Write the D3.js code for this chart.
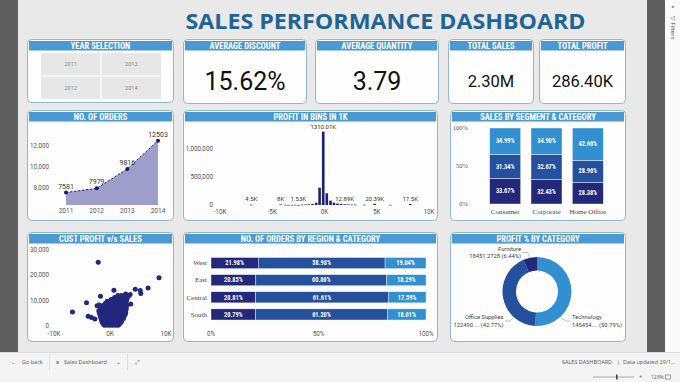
<!DOCTYPE html>
<html><head><meta charset="utf-8">
<script src="https://cdn.jsdelivr.net/npm/d3@7"></script>
<style>
html,body{margin:0;padding:0;background:#fff;overflow:hidden}
svg{display:block}
</style></head><body>
<svg id="c" width="680" height="382"></svg>
<script>
// ---------------- DATA ----------------
const dashTitle = "SALES PERFORMANCE DASHBOARD";
const slicerYears = ["2011","2013","2012","2014"];
const kpiTitles = ["AVERAGE DISCOUNT","AVERAGE QUANTITY","TOTAL SALES","TOTAL PROFIT"];
const kpiValues = ["15.62%","3.79","2.30M","286.40K"];

const years = ["2011","2012","2013","2014"];
const orderCounts = [7581,7979,9816,12503];
const orderTicks = [8000,10000,12000];

// profit bins (bin centre in K) and summed value per bin
const binProfitK = [-7.0,-4.2,-3.75,-3.45,-3.1,-2.8,-2.5,-2.15,-1.8,-1.5,-1.15,-0.8,-0.47,-0.12,0.22,0.57,0.9,1.24,1.58,1.93,2.27,2.6,2.95,3.8,4.8,6.3,8.2];
const binValues = [4500,8000,3000,2000,2500,3000,1530,6000,10000,12000,18000,41000,309000,1310010,209000,77000,41000,25000,20000,12890,10000,8000,6000,5000,20390,3000,17500];
const binLabelK = [-7.0,-4.2,-2.5,-0.12,1.93,4.8,8.2]; // bins whose value label is shown
const binYTicks = [0,500000,1000000];
const binXTicks = [-10,-5,0,5,10];

const categories = ["Furniture","Office Supplies","Technology"];
const segments = ["Consumer","Corporate","Home Office"];
const segFurniture = [33.67,32.43,28.38];
const segOffice = [31.34,32.67,28.96];
const segTech = [34.99,34.90,42.66];

// customer profit (K) vs sales (K)
const custPoints = [
 [-2.1,25.2],[8.75,19.0],[6.8,15.0],[-6.7,5.5],[-4.2,9.2],[-1.7,11.7],[0.7,14.1],[4.5,14.5],[5.4,14.0],[5.5,12.8],
 [3.6,12.4],[-3.9,3.8],[-3.3,3.4],[-2.7,2.8],[-2.3,8.0],[-1.9,8.3],[0.0,9.6],[3.7,8.7],[3.3,11.8],[2.8,12.6],
 [-1.0,0.3],[-0.5,0.3],[0,0.3],[0.5,0.3],[1.0,0.3],[1.5,0.3],
 [-1.2,0.9],[-0.6,0.9],[0,0.9],[0.6,0.9],[1.2,0.9],[1.7,0.9],
 [-1.4,1.5],[-0.8,1.5],[-0.2,1.5],[0.4,1.5],[1.0,1.5],[1.6,1.5],[2.0,1.5],
 [-1.5,2.25],[-0.9,2.25],[-0.3,2.25],[0.3,2.25],[0.9,2.25],[1.5,2.25],[2.1,2.25],
 [-1.6,3],[-1.0,3],[-0.4,3],[0.2,3],[0.8,3],[1.4,3],[2.0,3],[2.4,3],
 [-1.7,3.75],[-1.1,3.75],[-0.5,3.75],[0.1,3.75],[0.7,3.75],[1.3,3.75],[1.9,3.75],[2.5,3.75],
 [-1.8,4.5],[-1.2,4.5],[-0.6,4.5],[0,4.5],[0.6,4.5],[1.2,4.5],[1.8,4.5],[2.4,4.5],[2.7,4.5],
 [-1.9,5.25],[-1.3,5.25],[-0.7,5.25],[-0.1,5.25],[0.5,5.25],[1.1,5.25],[1.7,5.25],[2.3,5.25],[2.8,5.25],
 [-2.0,6],[-1.4,6],[-0.8,6],[-0.2,6],[0.4,6],[1.0,6],[1.6,6],[2.2,6],[2.8,6],
 [-1.7,6.75],[-1.1,6.75],[-0.5,6.75],[0.1,6.75],[0.7,6.75],[1.3,6.75],[1.9,6.75],[2.5,6.75],[2.9,6.75],
 [-1.4,7.5],[-0.8,7.5],[-0.2,7.5],[0.4,7.5],[1.0,7.5],[1.6,7.5],[2.2,7.5],[2.9,7.5],
 [-1.1,8.25],[-0.5,8.25],[0.1,8.25],[0.7,8.25],[1.3,8.25],[1.9,8.25],[2.5,8.25],[3.0,8.25],
 [-0.8,9],[-0.2,9],[0.4,9],[1.0,9],[1.6,9],[2.2,9],[2.8,9],
 [-0.5,9.75],[0.1,9.75],[0.5,9.75],[1.1,9.75],[1.7,9.75],[2.3,9.75],[2.9,9.75],
 [0.2,10.5],[0.8,10.5],[1.4,10.5],[2.0,10.5],[2.6,10.5],[3.0,10.5],
 [0.8,11.25],[1.4,11.25],[2.0,11.25],[2.6,11.25],[3.1,11.25],
 [1.4,12],[2.0,12],[2.6,12],[3.0,12]
];
const custXTicks = [-10,0,10];
const custYTicks = [0,10,20,30];

const regions = ["West","East","Central","South"];
const regFurniture = [21.98,20.85,20.81,20.79];
const regOffice = [58.98,60.86,61.61,61.20];
const regTech = [19.04,18.29,17.59,18.01];
const pctTicks = [0,50,100];

const pieCats = ["Technology","Office Supplies","Furniture"];
const pieProfit = [145454.9483,122490.8008,18451.2728];

// ---------------- STYLE ----------------
const C_FURN = "#22287a", C_OFF = "#24509e", C_TECH = "#3290d0";
const HEAD = "#4a99d3", BORDER = "#8fb8cc";
const SANS = "Roboto, 'Open Sans', sans-serif";
const NARROW = "'Liberation Sans Narrow','Roboto Condensed',Roboto,sans-serif";
const SERIF = "'Liberation Serif','DejaVu Serif',serif";

const svg = d3.select("#c");

// chrome
svg.append("rect").attr("width",680).attr("height",382).attr("fill","#e9e9e9");
svg.append("rect").attr("x",0).attr("y",0).attr("width",18).attr("height",352).attr("fill","#5f5f5f");
svg.append("rect").attr("x",647).attr("y",0).attr("width",18).attr("height",352).attr("fill","#5f5f5f");
svg.append("rect").attr("x",665).attr("y",0).attr("width",15).attr("height",352).attr("fill","#fafafa");
svg.append("rect").attr("x",0).attr("y",352).attr("width",680).attr("height",30).attr("fill","#f4f4f4");
svg.append("line").attr("x1",0).attr("x2",680).attr("y1",352.5).attr("y2",352.5).attr("stroke","#dcdcdc");
// filters pane
svg.append("text").attr("x",673).attr("y",8).attr("text-anchor","middle").attr("font-size",6).attr("fill","#444").attr("font-family",SANS).text("«");
svg.append("text").attr("transform","translate(671,16) rotate(90)").attr("font-size",6).attr("fill","#444").attr("font-family","'Open Sans',sans-serif").text("▽ Filters");

// bottom bar
const bb = svg.append("g").attr("font-family","'Open Sans',sans-serif").attr("font-size",5.5).attr("fill","#555");
bb.append("text").attr("x",11).attr("y",364).text("←");
bb.append("text").attr("x",22).attr("y",364).text("Go back");
bb.append("line").attr("x1",49.5).attr("x2",49.5).attr("y1",354).attr("y2",370).attr("stroke","#e0e0e0");
bb.append("text").attr("x",56).attr("y",364).text("≡");
bb.append("text").attr("x",64).attr("y",364).text("Sales Dashboard");
bb.append("text").attr("x",116).attr("y",364).text("⌄");
bb.append("line").attr("x1",127.5).attr("x2",127.5).attr("y1",354).attr("y2",370).attr("stroke","#e0e0e0");
bb.append("text").attr("x",135).attr("y",364).text("⤢");
bb.append("text").attr("x",562).attr("y",364).text("SALES DASHBOARD");
bb.append("text").attr("x",617).attr("y",364).text("|");
bb.append("text").attr("x",623).attr("y",364).text("Data updated 29/1...");
bb.append("line").attr("x1",593).attr("x2",634).attr("y1",377).attr("y2",377).attr("stroke","#777").attr("stroke-width",0.6);
bb.append("rect").attr("x",616).attr("y",374.5).attr("width",1.6).attr("height",5).attr("fill","#444");
bb.append("text").attr("x",639).attr("y",379).text("+");
bb.append("text").attr("x",651).attr("y",379).attr("font-size",5).text("123%");
bb.append("rect").attr("x",665.5).attr("y",375).attr("width",5).attr("height",4).attr("fill","none").attr("stroke","#666").attr("stroke-width",0.6);

// title
svg.append("text").attr("x",385.5).attr("y",29).attr("text-anchor","middle")
  .attr("font-family","'Open Sans',sans-serif").attr("font-weight",700).attr("font-size",22)
  .attr("fill","#1f6497").attr("textLength",400).attr("lengthAdjust","spacingAndGlyphs").text(dashTitle);

function card(x,y,w,h,title){
  const g = svg.append("g");
  g.append("rect").attr("x",x+0.5).attr("y",y+0.5).attr("width",w).attr("height",h).attr("rx",4)
    .attr("fill","#fdfdfd").attr("stroke",BORDER).attr("stroke-width",1);
  g.append("rect").attr("x",x+2).attr("y",y+2).attr("width",w-3).attr("height",9.5).attr("fill",HEAD);
  g.append("text").attr("x",x+0.5+w/2).attr("y",y+9.8).attr("text-anchor","middle")
    .attr("font-family",NARROW).attr("font-weight",700).attr("font-size",8.5).attr("fill","#fff").text(title);
  return g;
}

// ---------- Year selection ----------
{
  const g = card(27,39,146,63,"YEAR SELECTION");
  const cols = d3.scaleBand().domain([0,1]).range([41,161]).paddingInner(0.02);
  const rows = d3.scaleBand().domain([0,1]).range([53,99]).paddingInner(0.04);
  slicerYears.forEach((yr,i)=>{
    // layout: 2011 top-left, 2013 top-right, 2012 bottom-left, 2014 bottom-right
    const cx = i%2, ry = i<2 ? 0 : 1;
    g.append("rect").attr("x",cols(cx)).attr("y",rows(ry)).attr("width",cols.bandwidth()).attr("height",rows.bandwidth()).attr("fill","#e7e7e7");
    g.append("text").attr("x",cols(cx)+cols.bandwidth()/2).attr("y",rows(ry)+rows.bandwidth()/2+2)
      .attr("text-anchor","middle").attr("font-family",SANS).attr("font-size",5.5).attr("fill","#8a8a8a").text(yr);
  });
}

// ---------- KPI cards ----------
const kpiBoxes = [[183,39,123,64,25,89.5],[315,39,123,64,25,89.5],[448,39,85,64,16.5,87],[539,39,86,64,16.5,87]];
kpiTitles.forEach((t,i)=>{
  const [x,y,w,h,fs,by] = kpiBoxes[i];
  const g = card(x,y,w,h,t);
  g.append("text").attr("x",x+w/2+0.5).attr("y",by).attr("text-anchor","middle")
    .attr("font-family",SANS).attr("font-size",fs).attr("fill","#111").text(kpiValues[i]);
});

function tickText(g,x,y,txt,anchor,opts={}){
  return g.append("text").attr("x",x).attr("y",y).attr("text-anchor",anchor||"middle")
    .attr("font-family",opts.font||SANS).attr("font-size",opts.size||6.3).attr("fill",opts.fill||"#555").text(txt);
}

// ---------- No. of orders ----------
{
  const g = card(27,110,146,110,"NO. OF ORDERS");
  const x = d3.scalePoint().domain(years).range([66,158]);
  const y = d3.scaleLinear().domain([6400,13700]).range([205,128]);
  const data = years.map((yr,i)=>({yr,v:orderCounts[i]}));
  g.append("path").datum(data).attr("fill","#9d9ec9")
    .attr("d",d3.area().x(d=>x(d.yr)).y0(y(6400)).y1(d=>y(d.v)));
  g.append("path").datum(data).attr("fill","none").attr("stroke","#262670").attr("stroke-width",1).attr("stroke-dasharray","2.5,1.5")
    .attr("d",d3.line().x(d=>x(d.yr)).y(d=>y(d.v)));
  g.selectAll("circle.o").data(data).join("circle").attr("cx",d=>x(d.yr)).attr("cy",d=>y(d.v)).attr("r",2).attr("fill","#14146e");
  data.forEach(d=>tickText(g,x(d.yr),y(d.v)-4,String(d.v),"middle",{size:7,fill:"#333"}));
  orderTicks.forEach(t=>tickText(g,49,y(t)+2,d3.format(",")(t),"end"));
  years.forEach(yr=>tickText(g,x(yr),213,yr,"middle",{size:6.5}));
}

// ---------- Profit in bins ----------
{
  const g = card(183,110,254,110,"PROFIT IN BINS IN 1K");
  const x = d3.scaleLinear().domain([-10,10]).range([220,429]);
  const y = d3.scaleLinear().domain([0,1400000]).range([205,126.6]);
  const bw = 2.6;
  binProfitK.forEach((k,i)=>{
    const v = binValues[i];
    g.append("rect").attr("x",x(k)-bw/2).attr("y",y(v)).attr("width",bw).attr("height",Math.max(0.6,y(0)-y(v))).attr("fill","#1a1f7a");
  });
  binProfitK.forEach((k,i)=>{
    const v = binValues[i];
    if (binLabelK.includes(k)) {
      tickText(g,x(k),Math.min(y(v),204)-3,(+(v/1000).toFixed(2))+"K","middle",{size:6,fill:"#333"});
    }
  });
  binYTicks.forEach(t=>tickText(g,213,y(t)+2,d3.format(",")(t),"end"));
  binXTicks.forEach(t=>tickText(g,x(t),214,t+"K","middle"));
}

// ---------- Sales by segment & category ----------
{
  const g = card(450,110,175,110,"SALES BY SEGMENT & CATEGORY");
  const x = d3.scaleBand().domain(segments).range([484.5,608.5]).paddingInner(0.25).paddingOuter(0.125);
  const y = d3.scaleLinear().domain([0,100]).range([204,128]);
  const rows = segments.map((s,i)=>({seg:s,Furniture:segFurniture[i],"Office Supplies":segOffice[i],Technology:segTech[i]}));
  const stack = d3.stack().keys(categories)(rows);
  const cols = [C_FURN,C_OFF,C_TECH];
  stack.forEach((layer,li)=>{
    layer.forEach(d=>{
      g.append("rect").attr("x",x(d.data.seg)).attr("y",y(d[1])).attr("width",x.bandwidth()).attr("height",y(d[0])-y(d[1]))
        .attr("fill",cols[li]).attr("stroke","#fff").attr("stroke-width",0.4);
      g.append("text").attr("x",x(d.data.seg)+x.bandwidth()/2).attr("y",(y(d[0])+y(d[1]))/2+2)
        .attr("text-anchor","middle").attr("font-family",NARROW).attr("font-weight",700).attr("font-size",6.3).attr("fill","#fff")
        .text(d3.format(".2f")(d[1]-d[0])+"%");
    });
  });
  pctTicks.forEach(t=>tickText(g,468,y(t)+2,t+"%","end",{font:SERIF,size:6.5}));
  segments.forEach(s=>tickText(g,x(s)+x.bandwidth()/2,213.5,s,"middle",{font:SERIF,size:7,fill:"#444"}));
}

// ---------- Cust profit vs sales ----------
{
  const g = card(27,232,146,109,"CUST PROFIT v/s SALES");
  const x = d3.scaleLinear().domain([-10,10]).range([54,166]);
  const y = d3.scaleLinear().domain([0,30]).range([326,250]);
  g.selectAll("circle.p").data(custPoints).join("circle").attr("cx",d=>x(d[0])).attr("cy",d=>y(d[1])).attr("r",2.5).attr("fill","#23287e");
  custYTicks.forEach(t=>tickText(g,49,y(t)+2,d3.format(",")(t*1000),"end"));
  custXTicks.forEach(t=>tickText(g,x(t),336,t+"K","middle"));
}

// ---------- Orders by region & category ----------
{
  const g = card(183,232,254,109,"NO. OF ORDERS BY REGION & CATEGORY");
  const y = d3.scaleBand().domain(regions).range([254.5,323]).paddingInner(0.35).paddingOuter(0.175);
  const x = d3.scaleLinear().domain([0,100]).range([211,426]);
  const rows = regions.map((r,i)=>({reg:r,Furniture:regFurniture[i],"Office Supplies":regOffice[i],Technology:regTech[i]}));
  const stack = d3.stack().keys(categories)(rows);
  const cols = [C_FURN,C_OFF,C_TECH];
  stack.forEach((layer,li)=>{
    layer.forEach(d=>{
      g.append("rect").attr("x",x(d[0])).attr("y",y(d.data.reg)).attr("width",x(d[1])-x(d[0])).attr("height",y.bandwidth())
        .attr("fill",cols[li]).attr("stroke","#fff").attr("stroke-width",0.4);
      g.append("text").attr("x",(x(d[0])+x(d[1]))/2).attr("y",y(d.data.reg)+y.bandwidth()/2+2.2)
        .attr("text-anchor","middle").attr("font-family",NARROW).attr("font-weight",700).attr("font-size",6.3).attr("fill","#fff")
        .text(d3.format(".2f")(d[1]-d[0])+"%");
    });
  });
  regions.forEach(r=>tickText(g,207,y(r)+y.bandwidth()/2+2.2,r,"end",{font:SERIF,size:7,fill:"#444"}));
  pctTicks.forEach(t=>tickText(g,x(t),335.5,t+"%","middle"));
}

// ---------- Profit % by category ----------
{
  const g = card(450,232,175,109,"PROFIT % BY CATEGORY");
  const cx = 537, cy = 291.5, ro = 34.5, ri = 21;
  const total = d3.sum(pieProfit);
  const pie = d3.pie().sort(null).value(d=>d)(pieProfit);
  const arc = d3.arc().innerRadius(ri).outerRadius(ro);
  const cols = [C_TECH,C_OFF,C_FURN];
  const pg = g.append("g").attr("transform",`translate(${cx},${cy})`);
  pie.forEach((p,i)=>pg.append("path").attr("d",arc(p)).attr("fill",cols[i]));
  const fmtVal = v => { const s = String(v); return s.length>10 ? s.slice(0,6)+"...." : s; };
  const fmtPct = v => "("+d3.format(".2f")(v/total*100)+"%)";
  // label layout: [anchor, label x, label y (first line), leader angle (deg)]
  const lay = [["start",572,319,138],["end",503.5,319,222],["end",521,250.5,-12]];
  pie.forEach((p,i)=>{
    const [anc,lx,ly,ang] = lay[i];
    const a = ang*Math.PI/180;
    const px = cx + (ro+1)*Math.sin(a), py = cy - (ro+1)*Math.cos(a);
    const ex = anc==="start" ? lx-1.5 : lx+1.5;
    const ey = ly+2;
    const mx = anc==="start" ? ex-4 : ex+5;
    g.append("polyline").attr("points",`${ex},${ey} ${mx},${ey} ${px},${py}`).attr("fill","none").attr("stroke","#999").attr("stroke-width",0.6);
    tickText(g,lx,ly,pieCats[i],anc,{size:5.8,fill:"#444"});
    tickText(g,lx,ly+7.5,fmtVal(pieProfit[i])+" "+fmtPct(pieProfit[i]),anc,{size:5.8,fill:"#444"});
  });
}
</script>
</body></html>
